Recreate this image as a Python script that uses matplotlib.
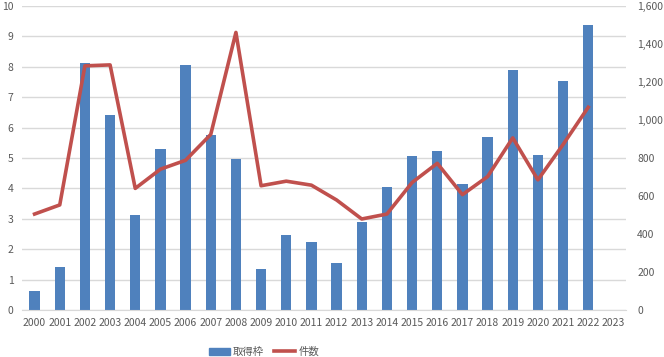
import numpy as np
import matplotlib
matplotlib.use("Agg")
import matplotlib.pyplot as plt
from matplotlib.ticker import FuncFormatter

plt.rcParams['font.family'] = ['Noto Sans CJK JP', 'DejaVu Sans']

years = [str(y) for y in range(2000, 2024)]
# 取得枠 (left axis), 2023 has no value
quota = [0.63, 1.43, 8.12, 6.41, 3.13, 5.29, 8.05, 5.75, 4.97, 1.36, 2.47, 2.25,
         1.56, 2.90, 4.04, 5.05, 5.22, 4.14, 5.68, 7.91, 5.09, 7.54, 9.38]
# 件数 (right axis)
counts = [505, 553, 1285, 1290, 640, 741, 788, 924, 1461, 654, 678, 657,
          579, 479, 505, 671, 772, 607, 702, 906, 685, 871, 1067]

bar_color = '#4f81bd'
line_color = '#c0504d'
text_color = '#595959'
grid_color = '#d9d9d9'

fig = plt.figure(figsize=(6.64, 3.57), dpi=100)
ax = fig.add_axes([22 / 664, 1 - 310 / 357, 604 / 664, 304 / 357])
ax2 = ax.twinx()

x = np.arange(len(years))
ax.bar(x[:len(quota)], quota, width=0.41, color=bar_color, zorder=2)
ax2.plot(x[:len(counts)], counts, color=line_color, linewidth=2.6, zorder=3)

ax.set_xlim(-0.5, len(years) - 0.5)
ax.set_ylim(0, 10)
ax2.set_ylim(0, 1600)
ax.set_yticks(range(0, 11))
ax2.set_yticks(range(0, 1601, 200))
ax2.yaxis.set_major_formatter(FuncFormatter(lambda v, p: f"{int(v):,}"))
ax.set_xticks(x)
ax.set_xticklabels(years)

ax.grid(axis='y', color=grid_color, linewidth=1, zorder=0)
ax.set_axisbelow(True)
for a in (ax, ax2):
    for s in a.spines.values():
        s.set_visible(False)
    a.tick_params(length=0, labelsize=7.5, colors=text_color)
ax.spines['bottom'].set_visible(True)
ax.spines['bottom'].set_color(grid_color)
ax.tick_params(axis='x', pad=6)
ax.tick_params(axis='y', pad=6)
ax2.tick_params(axis='y', pad=8)

handles = [plt.Rectangle((0, 0), 1, 1, color=bar_color),
           plt.Line2D([0], [0], color=line_color, linewidth=2.6)]
fig.legend(handles, ['取得枠', '件数'], loc='center', bbox_to_anchor=(264 / 664, 1 - 352 / 357),
           ncol=2, frameon=False, fontsize=7.5, handlelength=2.0, handleheight=0.7,
           columnspacing=1.0, handletextpad=0.3, labelcolor=text_color)

fig.savefig('out.png', dpi=100)
